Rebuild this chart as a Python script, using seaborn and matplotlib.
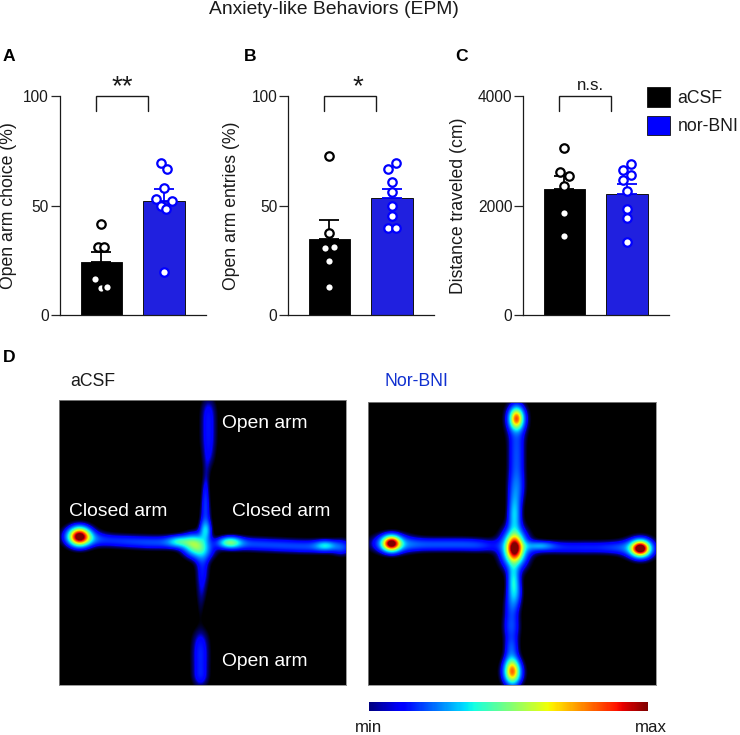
import numpy as np
import pandas as pd
import matplotlib
matplotlib.use("Agg")
import matplotlib.pyplot as plt
from matplotlib.colors import LinearSegmentedColormap
from matplotlib.cm import ScalarMappable
from matplotlib.colors import Normalize
from matplotlib.patches import Patch
import seaborn as sns

groups = ["aCSF", "nor-BNI"]
colors = ["#000000", "#0000FF"]

# Panel A
a_means = [24.2, 52.0]
a_sem = [4.6, 5.8]
a_ctrl = [41.5, 31, 31, 16.6, 12.3, 13]
a_ctrl_dx = [0, -3, 3, -6, 0, 6]
a_drug = [69.5, 66.6, 58.2, 53.2, 52.3, 50, 48.3, 19.9]
a_drug_dx = [-3, 3, 0, -7.7, 7.7, -2.4, 2.4, 0]
# Panel B
b_means = [34.8, 53.3]
b_sem = [8.5, 4.5]
b_ctrl = [72.6, 37.4, 30.7, 31, 24.9, 13]
b_ctrl_dx = [0, 0, -4.2, 4.2, 0, 0]
b_drug = [69.5, 66.6, 60.9, 56.4, 49.8, 45.3, 40, 40]
b_drug_dx = [4.2, -4.2, 0, 0, 0, 0, -4.2, 4.2]
# Panel C
c_means = [2310, 2219]
c_sem = [237, 182]
c_ctrl = [3058, 2614, 2541, 2365, 1872, 1441]
c_ctrl_dx = [0, -4.2, 4.2, 0, 0, 0]
c_drug = [2766, 2650, 2565, 2462, 2274, 1945, 1775, 1337]
c_drug_dx = [4.2, -4.2, 4.2, -4.2, 0, 0, 0, 0]

# Occupancy maps: hot spots (cell x, cell y, spread x, spread y, level)
acsf_x = [20, 20, 30, 50, 70, 90, 110, 178, 200, 222, 244, 266, 283, 266,
          149, 149, 149, 149, 147, 146, 146, 146, 143, 143, 142, 141, 141, 141, 141, 141,
          135, 146, 120, 170, 141]
acsf_y = [136, 136, 138, 140, 141, 142, 142, 143, 144, 145, 146, 146, 147, 145,
          8, 24, 40, 56, 72, 88, 100, 115, 160, 175, 192, 210, 238, 252, 266, 278,
          143, 130, 141, 142, 150]
acsf_sx = [7, 12, 12, 12, 12, 12, 12, 13, 13, 13, 13, 13, 7, 7,
           6, 6, 6, 5, 3, 3, 3, 4, 5, 5, 4, 3, 6.5, 6.5, 6.5, 6,
           8, 4, 8, 8, 10]
acsf_sy = [6, 8, 5, 5, 5, 5, 5, 5, 5, 5, 5, 5, 6, 3.5,
           10, 10, 10, 10, 10, 10, 10, 10, 10, 10, 10, 10, 10, 10, 10, 8,
           7, 7, 4, 4, 7]
acsf_peak = [0.88, 0.18, 0.1, 0.11, 0.12, 0.13, 0.13, 0.13, 0.13, 0.13, 0.13, 0.13, 0.14, 0.2,
             0.09, 0.09, 0.09, 0.08, 0.05, 0.07, 0.09, 0.12, 0.09, 0.09, 0.07, 0.035, 0.08, 0.09, 0.09, 0.09,
             0.38, 0.28, 0.26, 0.38, 0.22]

nor_x = [23, 23, 44, 62, 80, 98, 116, 172, 170, 194, 216, 238, 256, 271, 271,
         148, 148, 148, 148, 148, 148, 146, 146, 146, 145,
         143, 143, 143, 143, 144, 144, 146, 146]
nor_y = [141, 141, 142, 142, 142, 142, 143, 143, 145, 145, 145, 145, 145, 146, 146,
         16, 16, 40, 58, 76, 90, 112, 146, 146, 175,
         205, 225, 245, 262, 270, 270, 190, 190]
nor_sx = [6, 14, 12, 12, 12, 12, 12, 10, 12, 12, 12, 12, 12, 6, 11,
          4.5, 8, 6, 6, 6, 6, 4.5, 5.5, 10, 4,
          5.5, 6, 5, 5, 5, 8, 5, 5]
nor_sy = [5, 7, 5, 5, 5, 5, 5, 3, 5, 5, 5, 5, 5, 5, 8,
          7, 12, 11, 11, 11, 11, 14, 9, 14, 10,
          10, 10, 8, 8, 8, 10, 10, 10]
nor_peak = [0.85, 0.25, 0.11, 0.12, 0.12, 0.12, 0.12, 0.16, 0.11, 0.11, 0.11, 0.11, 0.11, 0.9, 0.25,
            0.62, 0.2, 0.13, 0.13, 0.13, 0.13, 0.3, 0.72, 0.38, 0.24,
            0.13, 0.17, 0.16, 0.16, 0.5, 0.2, 0.12, 0.12]

W, H = 740, 735
plt.rcParams["font.family"] = ["Liberation Sans", "DejaVu Sans"]
sns.set_theme(style="ticks")
plt.rcParams["font.family"] = ["Liberation Sans", "DejaVu Sans"]
plt.rcParams["axes.edgecolor"] = "#1a1a1a"

fig = plt.figure(figsize=(W / 100, H / 100), dpi=100, facecolor="white")


def box(x0, y0, x1, y1):
    return [x0 / W, 1 - y1 / H, (x1 - x0) / W, (y1 - y0) / H]


def label(x, y, s, **kw):
    kw.setdefault("ha", "left")
    kw.setdefault("va", "center")
    kw.setdefault("color", "#1a1a1a")
    fig.text(x / W, 1 - y / H, s, **kw)


def bar_panel(x0, means, sem, ctrl, ctrl_dx, drug, drug_dx, ymax, ticks, ylab, lab_x, mark, br):
    x1 = x0 + 146.2
    ax = fig.add_axes(box(x0, 96, x1, 315.3))
    unit = 62.7
    df = pd.DataFrame({"group": groups, "value": means})
    sns.barplot(data=df, x="group", y="value", hue="group", palette=colors, width=0.66,
                edgecolor="#111111", linewidth=0.7, legend=False, ax=ax, zorder=2)
    for i, c in enumerate(colors):
        ax.errorbar([i], [means[i]], yerr=[[0], [sem[i]]], color=c, capsize=7.4,
                    elinewidth=1.3, capthick=1.3, zorder=3)
    for i, (vals, dx) in enumerate([(ctrl, ctrl_dx), (drug, drug_dx)]):
        xs = [i + d * 1.0 / unit for d in dx]
        sns.scatterplot(x=xs, y=vals, s=37, color="white", edgecolor=colors[i], linewidth=1.6,
                        ax=ax, zorder=4, clip_on=False, legend=False)
    ax.set_xlim(-(41.8 / unit), 1 + (41.9 / unit))
    ax.set_ylim(0, ymax)
    ax.set_xticks([])
    ax.set_yticks(ticks)
    ax.tick_params(axis="y", length=6.5, width=0.9, pad=1, labelsize=11.2, labelcolor="#1a1a1a")
    ax.set_xlabel("")
    ax.set_ylabel(ylab, fontsize=12.7, color="#1a1a1a", va="center")
    ax.yaxis.set_label_coords((lab_x - x0) / 146.2, 0.5)
    sns.despine(ax=ax)
    for s in ("left", "bottom"):
        ax.spines[s].set_linewidth(0.9)
    # significance bracket
    bl, br_ = -0.33 + (-0.0), 0
    low = ymax * 0.933
    ax.plot([br[0], br[0], br[1], br[1]], [low, ymax, ymax, low], color="#1a1a1a", lw=1.0,
            clip_on=False, zorder=5, solid_joinstyle="miter")
    return ax


ax_a = bar_panel(59.5, a_means, a_sem, a_ctrl, a_ctrl_dx, a_drug, a_drug_dx, 100, [0, 50, 100],
                 "Open arm choice (%)", 9, "**", (-0.085, 0.75))
ax_b = bar_panel(287.7, b_means, b_sem, b_ctrl, b_ctrl_dx, b_drug, b_drug_dx, 100, [0, 50, 100],
                 "Open arm entries (%)", 232, "*", (-0.085, 0.75))
ax_c = bar_panel(522.7, c_means, c_sem, c_ctrl, c_ctrl_dx, c_drug, c_drug_dx, 4000, [0, 2000, 4000],
                 "Distance traveled (cm)", 458.5, "n.s.", (-0.085, 0.75))

label(122, 87, "**", ha="center", fontsize=20)
label(358, 87, "*", ha="center", fontsize=20)
label(590, 86, "n.s.", ha="center", fontsize=12.2)

label(334, 10, "Anxiety-like Behaviors (EPM)", ha="center", fontsize=13.9)
for x, y, s in [(3, 56.5, "A"), (244, 56.5, "B"), (455, 56.5, "C"), (3, 358, "D")]:
    label(x, y, s, fontsize=12.6, fontweight="bold", color="black")

handles = [Patch(facecolor=c, edgecolor="#111111", linewidth=0.6) for c in colors]
fig.legend(handles, groups, loc="upper left", bbox_to_anchor=(646.7 / W, 1 - 87.5 / H), frameon=False,
           fontsize=12.7, handlelength=1.33, handleheight=1.3, handletextpad=0.42, labelspacing=0.5,
           borderpad=0, borderaxespad=0, labelcolor="#1a1a1a")

base = matplotlib.colormaps["jet"]
heat_cmap = LinearSegmentedColormap.from_list(
    "heat", [(0, "black"), (0.035, "black"), (0.085, base(0.0))] +
    [(v, base(v)) for v in np.linspace(0.11, 1, 60)], N=1024)


def occupancy(nx, ny, xs, ys, sxs, sys, peaks):
    gx, gy = np.meshgrid(np.arange(nx), np.arange(ny))
    z = np.zeros((ny, nx))
    for x, y, sx, sy, p in zip(xs, ys, sxs, sys, peaks):
        z += p * np.exp(-0.5 * (((gx - x) / sx) ** 2 + ((gy - y) / sy) ** 2))
    return np.clip(z, 0, 1)


def map_panel(rect, xs, ys, sxs, sys, peaks):
    ax = fig.add_axes(box(*rect))
    nx, ny = int(rect[2] - rect[0]), int(rect[3] - rect[1])
    sns.heatmap(occupancy(nx, ny, xs, ys, sxs, sys, peaks), cmap=heat_cmap, vmin=0, vmax=1, cbar=False,
                xticklabels=False, yticklabels=False, ax=ax)
    for s in ax.spines.values():
        s.set_visible(True)
        s.set_color("#888888")
        s.set_linewidth(0.6)
    return ax


map_panel((58.7, 400, 346.3, 685), acsf_x, acsf_y, acsf_sx, acsf_sy, acsf_peak)
map_panel((368, 401.7, 655.7, 685), nor_x, nor_y, nor_sx, nor_sy, nor_peak)

label(70, 382, "aCSF", fontsize=12.7)
label(384, 382, "Nor-BNI", fontsize=12.7, color="#1030D0")
for x, y, s in [(222, 423, "Open arm"), (69, 512, "Closed arm"), (232, 512, "Closed arm"), (222, 662, "Open arm")]:
    label(x, y, s, fontsize=13.9, color="white")

cax = fig.add_axes(box(369.3, 702, 647.7, 711))
cb = fig.colorbar(ScalarMappable(Normalize(0, 1), "jet"), cax=cax, orientation="horizontal", ticks=[])
cb.outline.set_visible(False)
label(369, 728, "min", ha="center", fontsize=12.2)
label(651, 728, "max", ha="center", fontsize=12.2)

fig.savefig("out.png", dpi=100, facecolor="white")
